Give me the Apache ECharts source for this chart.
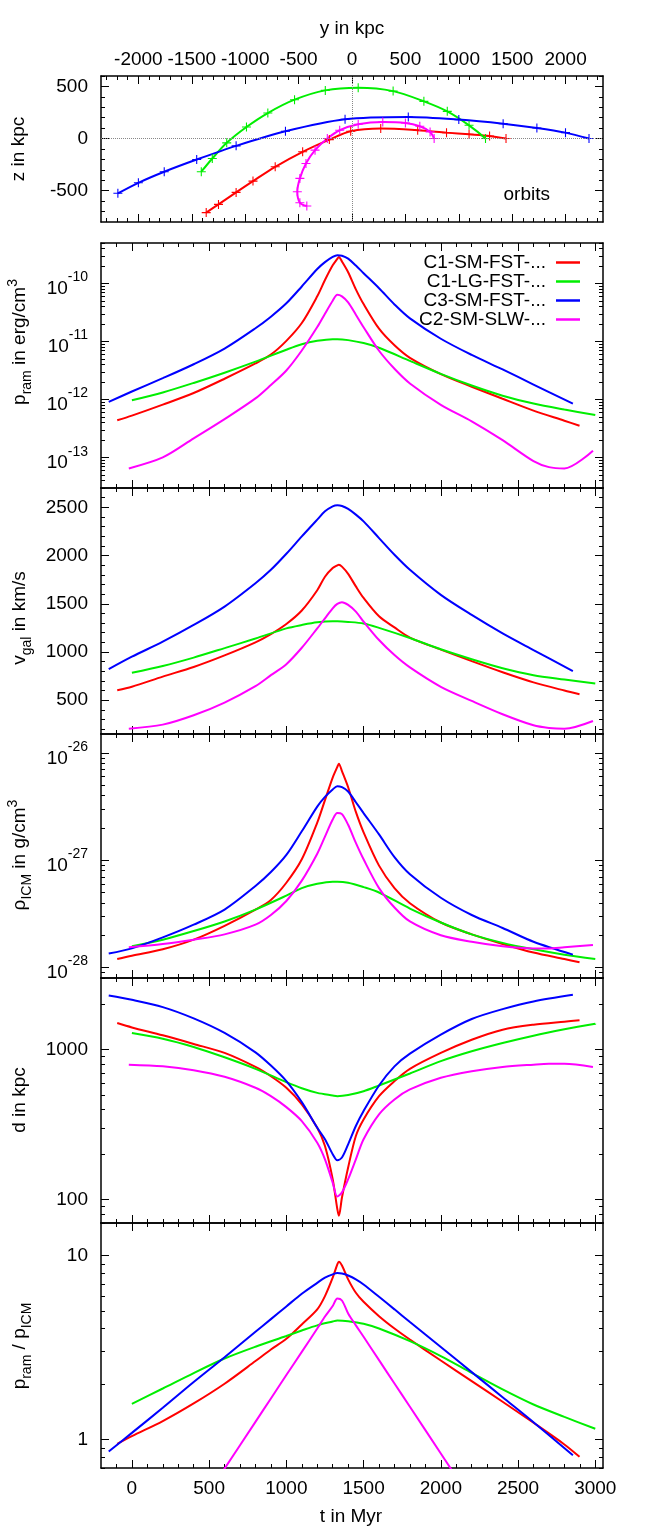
<!DOCTYPE html>
<html><head><meta charset="utf-8">
<script src="https://cdn.jsdelivr.net/npm/echarts@6/dist/echarts.min.js"></script>
<style>html,body{margin:0;padding:0;background:#fff}#c{width:650px;height:1539px}</style>
</head><body><div id="c"></div>
<script>
// ---------------- data ----------------
const names = ['C1-SM-FST-...', 'C1-LG-FST-...', 'C3-SM-FST-...', 'C2-SM-SLW-...'];
const colors = ['#ff0000', '#00ee00', '#0000ff', '#ff00ff'];

// orbits: [y kpc, z kpc]
const orbitRed = [[-1365,-710],[-1250,-631],[-1085,-516],[-927,-408],[-719,-271],[-462,-127],[-212,-10],[-12,70],[269,96],[615,80],[885,57],[1096,41],[1288,25],[1442,0]];
const orbitGreen = [[-1411,-318],[-1308,-191],[-1173,-41],[-988,111],[-788,245],[-538,373],[-250,462],[58,487],[385,455],[673,357],[892,261],[1096,127],[1250,0]];
const orbitBlue = [[-2192,-525],[-2000,-424],[-1758,-318],[-1454,-201],[-1085,-70],[-623,70],[-65,185],[527,207],[1000,182],[1415,143],[1731,102],[1999,57],[2219,0]];
const orbitMag = [[-423,-647],[-488,-615],[-512,-510],[-488,-382],[-431,-239],[-346,-111],[-231,0],[-115,80],[58,137],[288,159],[500,150],[635,118],[731,64],[769,0]];

// time grids (Myr)
const tRed = [-95,0,200,400,600,800,900,1000,1100,1200,1250,1300,1330,1340,1360,1400,1450,1500,1600,1700,1800,2000,2200,2400,2600,2800,2898];
const tGreen = [0,200,400,600,800,1000,1100,1200,1300,1330,1400,1500,1600,1800,2000,2200,2400,2600,2800,3000];
const tBlue = [-150,0,200,400,600,800,900,1000,1100,1200,1250,1300,1330,1360,1400,1450,1500,1600,1700,1800,2000,2200,2400,2600,2855];
const tMag = [-20,200,400,600,800,900,1000,1100,1200,1250,1300,1330,1360,1400,1450,1500,1600,1700,1800,2000,2200,2400,2600,2700,2800,2985];

// p_ram (erg/cm^3)
const pramRed = [4.4e-13,5.3e-13,8.2e-13,1.3e-12,2.29e-12,4.2e-12,5.98e-12,1.03e-11,2.09e-11,6.03e-11,1.15e-10,2.06e-10,2.67e-10,2.88e-10,2.40e-10,1.57e-10,7.96e-11,4.43e-11,1.67e-11,8.65e-12,5.26e-12,2.76e-12,1.67e-12,1.035e-12,6.47e-13,4.33e-13,3.54e-13];
const pramGreen = [9.75e-13,1.33e-12,1.94e-12,2.91e-12,4.51e-12,7.24e-12,8.99e-12,1.03e-11,1.10e-11,1.10e-11,1.06e-11,9.44e-12,7.83e-12,4.66e-12,2.78e-12,1.75e-12,1.17e-12,8.55e-13,6.75e-13,5.45e-13];
const pramBlue = [9.12e-13,1.38e-12,2.34e-12,4.07e-12,7.59e-12,1.70e-11,2.69e-11,4.57e-11,8.91e-11,1.78e-10,2.34e-10,2.88e-10,3.09e-10,3.02e-10,2.69e-10,2.04e-10,1.51e-10,8.32e-11,4.37e-11,2.51e-11,1.12e-11,5.89e-12,3.31e-12,1.82e-12,8.51e-13];
const pramMag = [6.52e-14,1.01e-13,2.15e-13,4.62e-13,1.05e-12,1.79e-12,3.18e-12,7.03e-12,1.78e-11,3.02e-11,5.07e-11,6.4e-11,6.0e-11,4.73e-11,2.91e-11,1.77e-11,6.95e-12,3.40e-12,1.90e-12,8.15e-13,4.23e-13,2.00e-13,8.71e-14,6.87e-14,6.52e-14,1.32e-13];

// v_gal (km/s)
const vRed = [604,640,745,845,965,1100,1185,1290,1430,1640,1780,1870,1898,1904,1885,1810,1680,1560,1370,1255,1150,1025,905,790,685,600,562];
const vGreen = [784,855,942,1040,1140,1245,1280,1308,1318,1318,1312,1295,1250,1145,1028,925,832,760,715,673];
const vBlue = [822,951,1107,1280,1471,1713,1852,2018,2198,2372,2458,2510,2521,2514,2483,2424,2354,2181,2008,1852,1592,1384,1193,1020,802];
const vMag = [205,247,344,476,646,760,874,1044,1245,1349,1453,1498,1516,1488,1419,1315,1124,968,840,639,493,355,240,213,205,285];

// rho_ICM (g/cm^3)
const rhoRed = [1.20e-28,1.29e-28,1.48e-28,1.82e-28,2.45e-28,3.47e-28,4.27e-28,6.17e-28,1.02e-27,2.24e-27,3.63e-27,5.89e-27,7.41e-27,7.94e-27,6.76e-27,4.79e-27,2.82e-27,1.82e-27,8.91e-28,5.50e-28,3.98e-28,2.63e-28,2.04e-28,1.66e-28,1.38e-28,1.20e-28,1.12e-28];
const rhoGreen = [1.58e-28,1.82e-28,2.19e-28,2.69e-28,3.47e-28,4.68e-28,5.50e-28,6.03e-28,6.31e-28,6.31e-28,6.17e-28,5.62e-28,5.01e-28,3.55e-28,2.63e-28,2.04e-28,1.70e-28,1.48e-28,1.32e-28,1.20e-28];
const rhoBlue = [1.35e-28,1.51e-28,1.91e-28,2.51e-28,3.47e-28,5.75e-28,7.76e-28,1.12e-27,1.86e-27,3.16e-27,3.89e-27,4.57e-27,4.90e-27,4.79e-27,4.37e-27,3.47e-27,2.75e-27,1.74e-27,1.07e-27,7.41e-28,4.47e-28,3.09e-28,2.34e-28,1.74e-28,1.32e-28];
const rhoMag = [1.55e-28,1.66e-28,1.82e-28,2.04e-28,2.51e-28,3.09e-28,4.17e-28,6.46e-28,1.15e-27,1.66e-27,2.40e-27,2.75e-27,2.69e-27,2.14e-27,1.45e-27,1.02e-27,5.50e-28,3.63e-28,2.69e-28,2.00e-28,1.74e-28,1.58e-28,1.51e-28,1.51e-28,1.55e-28,1.62e-28];

// d (kpc)
const dRed = [1503,1406,1245,1091,951,767,665,557,432,302,228,137,86.7,78.3,103.5,164,266,343,490,617,745,951,1164,1358,1466,1535,1567];
const dGreen = [1291,1183,1042,889,745,607,553,515,495,490,498,528,577,693,838,975,1107,1239,1365,1489];
const dBlue = [2296,2148,1919,1614,1291,959,783,617,447,302,253,201,183,191,234,310,390,577,774,940,1259,1600,1862,2094,2317];
const dMag = [794,774,729,659,557,490,414,334,240,186,130,105,112,137,186,253,371,466,543,649,718,767,794,804,804,767];

// p_ram / p_ICM
const ratioRed = [0.946,1.042,1.259,1.570,2.009,2.667,3.083,3.524,4.217,5.093,6.012,7.568,8.933,9.247,8.810,7.413,6.266,5.598,4.677,4.009,3.491,2.685,2.075,1.603,1.233,0.940,0.805];
const ratioGreen = [1.563,1.892,2.296,2.754,3.192,3.648,3.908,4.169,4.375,4.436,4.395,4.256,4.009,3.420,2.838,2.301,1.871,1.549,1.327,1.143];
const ratioBlue = [0.861,1.086,1.486,2.051,2.799,3.846,4.508,5.284,6.194,7.096,7.568,7.889,8.017,7.980,7.780,7.413,6.950,5.957,5.093,4.345,3.177,2.323,1.698,1.242,0.822];
const ratioMag = [null,null,0.388,0.695,1.247,1.671,2.239,2.992,4.009,4.656,5.309,5.834,5.689,4.842,4.169,3.614,2.698,2.014,1.507,0.839,0.468,null,null,null,null,null];

// tick labels
const tLabels = [0,500,1000,1500,2000,2500,3000];
const yKpcLabels = [-2000,-1500,-1000,-500,0,500,1000,1500,2000];
const zKpcLabels = [-500,0,500];
const vLabels = [500,1000,1500,2000,2500];
const pramLabels = [1e-13,1e-12,1e-11,1e-10];
const rhoLabels = [1e-28,1e-27,1e-26];
const dLabels = [100,1000];
const ratioLabels = [1,10];

// ---------------- helpers ----------------
const FONT = '"Liberation Sans", Arial, Helvetica, sans-serif';
function linMinor(lo, hi, step, majorStep) {
  const out = [];
  for (let v = lo; v <= hi + 1e-9; v += step) { if (Math.abs(v % majorStep) > 1e-9) out.push(v); }
  return out;
}
function logMinor(e0, e1) {
  const out = [];
  for (let e = e0; e <= e1; e++) for (let m = 2; m <= 9; m++) out.push(Number((m * Math.pow(10, e)).toPrecision(3)));
  return out;
}
const supRich = {
  b: {fontSize: 19, fontFamily: FONT, color: '#000', lineHeight: 30, verticalAlign: 'bottom'},
  s: {fontSize: 14, fontFamily: FONT, color: '#000', height: 18, lineHeight: 18, verticalAlign: 'top'}
};
const powFmt = v => '{b|10}{s|' + Math.round(Math.log10(v)) + '}';
const plainFmt = v => String(Math.round(v));
// the rho panel's tick axes are drawn on a scale shifted by 20 decades (ECharts rounds
// extents to 20 decimals); the data itself sits on a hidden axis with the true range.
const RHO_SHIFT = 1e20;
const rhoFmt = v => '{b|10}{s|' + (Math.round(Math.log10(v)) - 20) + '}';

function mkAxes(dim, gi, c) {
  const positions = dim === 'x' ? ['bottom', 'top'] : ['left', 'right'];
  const out = [];
  positions.forEach(pos => {
    const showLab = c.labelPos === pos;
    out.push({
      type: c.type, gridIndex: gi, position: pos, min: c.min, max: c.max, logBase: 10,
      axisLine: {show: true, onZero: false, lineStyle: {color: '#000', width: 1.5}},
      axisTick: {show: true, inside: true, length: 8, customValues: c.major, lineStyle: {color: '#000', width: 1}},
      axisLabel: {show: showLab, customValues: c.labels, margin: c.margin || 12, formatter: c.fmt,
                  rich: c.rich, color: '#000', fontSize: 19, fontFamily: FONT,
                  showMinLabel: true, showMaxLabel: true, hideOverlap: false},
      splitLine: {show: false}, minorTick: {show: false}, minorSplitLine: {show: false}
    });
    out.push({
      type: c.type, gridIndex: gi, position: pos, min: c.min, max: c.max, logBase: 10,
      axisLine: {show: false, onZero: false},
      axisTick: {show: true, inside: true, length: 4, customValues: c.minor, lineStyle: {color: '#000', width: 1}},
      axisLabel: {show: false}, splitLine: {show: false}
    });
  });
  return out;
}

const grids = [
  {left: 101, width: 502, top: 76, height: 146},
  {left: 101, width: 502, top: 243, height: 245},
  {left: 101, width: 502, top: 488, height: 246},
  {left: 101, width: 502, top: 734, height: 244},
  {left: 101, width: 502, top: 978, height: 245},
  {left: 101, width: 502, top: 1223, height: 245}
].map(g => Object.assign({containLabel: false, outerBoundsMode: 'none', show: false}, g));

const xAxes = [], yAxes = [];
xAxes.push(...mkAxes('x', 0, {type: 'value', min: -2350, max: 2350, major: yKpcLabels, labels: yKpcLabels,
  minor: linMinor(-2300, 2300, 100, 500), labelPos: 'top', fmt: plainFmt, margin: 7}));
yAxes.push(...mkAxes('y', 0, {type: 'value', min: -800, max: 600, major: zKpcLabels, labels: zKpcLabels,
  minor: linMinor(-700, 600, 100, 500), labelPos: 'left', fmt: plainFmt, margin: 13}));
const rhoShifted = rhoLabels.map(v => v * RHO_SHIFT);
const yCfg = [
  {type: 'log', min: 3e-14, max: 5e-10, major: pramLabels, labels: pramLabels, minor: logMinor(-14, -10), fmt: powFmt, rich: supRich},
  {type: 'value', min: 150, max: 2700, major: vLabels, labels: vLabels, minor: linMinor(200, 2600, 100, 500), fmt: plainFmt},
  {type: 'log', min: 8e-29 * RHO_SHIFT, max: 1.5e-26 * RHO_SHIFT, major: rhoShifted, labels: rhoShifted, minor: logMinor(-9, -6), fmt: rhoFmt, rich: supRich},
  {type: 'log', min: 70, max: 3000, major: dLabels, labels: dLabels, minor: logMinor(1, 3), fmt: plainFmt},
  {type: 'log', min: 0.7, max: 15, major: ratioLabels, labels: ratioLabels, minor: logMinor(-1, 1), fmt: plainFmt}
];
for (let i = 1; i <= 5; i++) {
  xAxes.push(...mkAxes('x', i, {type: 'value', min: -200, max: 3050, major: tLabels, labels: tLabels,
    minor: linMinor(-100, 3000, 100, 500), labelPos: i === 5 ? 'bottom' : null, fmt: plainFmt, margin: 11}));
  yAxes.push(...mkAxes('y', i, Object.assign({labelPos: 'left', margin: 13}, yCfg[i - 1])));
}
// hidden true-valued rho axis for the data
yAxes.push({type: 'log', gridIndex: 3, min: 8e-29, max: 1.5e-26, logBase: 10, show: false,
  axisLine: {show: false, onZero: false}, axisTick: {show: false}, axisLabel: {show: false}, splitLine: {show: false}});
const RHO_AXIS = yAxes.length - 1;

function tline(k, gi, t, v) {
  return {
    type: 'line', name: names[k], xAxisIndex: 4 * gi, yAxisIndex: gi === 3 ? RHO_AXIS : 4 * gi,
    data: t.map((x, i) => [x, v[i]]).filter(p => p[1] != null),
    showSymbol: false, symbol: 'none', smooth: 0.3, clip: true,
    color: colors[k], lineStyle: {color: colors[k], width: 2}, itemStyle: {color: colors[k]}, z: 3
  };
}
const plusPath = 'path://M0,4.4H10V5.6H0Z M4.4,0H5.6V10H4.4Z';
function orbit(k, pts) {
  return {
    type: 'line', name: names[k], xAxisIndex: 0, yAxisIndex: 0, data: pts,
    showSymbol: true, symbol: plusPath, symbolSize: 9, smooth: 0.3, clip: true,
    color: colors[k], lineStyle: {color: colors[k], width: 2}, itemStyle: {color: colors[k]}, z: 3
  };
}

const series = [orbit(0, orbitRed), orbit(1, orbitGreen), orbit(2, orbitBlue), orbit(3, orbitMag)];
series[2].markLine = {silent: true, symbol: ['none', 'none'], label: {show: false}, animation: false,
  lineStyle: {type: 'dotted', color: '#888', width: 1}, data: [{yAxis: 0}, {xAxis: 0}]};
const panelData = [
  [pramRed, pramGreen, pramBlue, pramMag],
  [vRed, vGreen, vBlue, vMag],
  [rhoRed, rhoGreen, rhoBlue, rhoMag],
  [dRed, dGreen, dBlue, dMag],
  [ratioRed, ratioGreen, ratioBlue, ratioMag]
];
const tAll = [tRed, tGreen, tBlue, tMag];
panelData.forEach((arrs, p) => arrs.forEach((arr, k) => series.push(tline(k, p + 1, tAll[k], arr))));

const nRich = {
  n: {fontSize: 19, fontFamily: FONT, color: '#000', lineHeight: 30},
  sub: {fontSize: 14, fontFamily: FONT, color: '#000', height: 16, lineHeight: 16, verticalAlign: 'bottom'},
  sup: {fontSize: 14, fontFamily: FONT, color: '#000', height: 16, lineHeight: 16, verticalAlign: 'top'}
};
function gtext(x, y, text, rot, align) {
  return {type: 'text', x: x, y: y, rotation: rot || 0, silent: true,
    style: {text: text, rich: nRich, fontSize: 19, fontFamily: FONT, fill: '#000',
      align: align || 'center', verticalAlign: 'middle', textAlign: align || 'center', textVerticalAlign: 'middle'}};
}
const R = Math.PI / 2;
const graphics = [
  gtext(352, 29, '{n|y in kpc}'),
  gtext(351, 1517, '{n|t in Myr}'),
  gtext(550, 195, '{n|orbits}', 0, 'right'),
  gtext(19, 149, '{n|z in kpc}', R),
  gtext(20, 342, '{n|p}{sub|ram}{n| in erg/cm}{sup|3}', R),
  gtext(20, 618, '{n|v}{sub|gal}{n| in km/s}', R),
  gtext(20, 855, '{n|ρ}{sub|ICM}{n| in g/cm}{sup|3}', R),
  gtext(20, 1100, '{n|d in kpc}', R),
  gtext(20, 1346, '{n|p}{sub|ram}{n| / p}{sub|ICM}', R)
];

const chart = echarts.init(document.getElementById('c'), null, {renderer: 'canvas'});
chart.setOption({
  animation: false,
  backgroundColor: '#ffffff',
  textStyle: {fontFamily: FONT},
  grid: grids,
  xAxis: xAxes,
  yAxis: yAxes,
  legend: {
    data: names, orient: 'vertical', right: 70, top: 253, align: 'right', icon: 'rect',
    itemWidth: 24, itemHeight: 2.5, itemGap: 0, padding: 0, selectedMode: false,
    textStyle: {fontSize: 19, fontFamily: FONT, color: '#000', lineHeight: 19, padding: [0, 5, 0, 0]}
  },
  series: series,
  graphic: graphics
});
</script></body></html>
